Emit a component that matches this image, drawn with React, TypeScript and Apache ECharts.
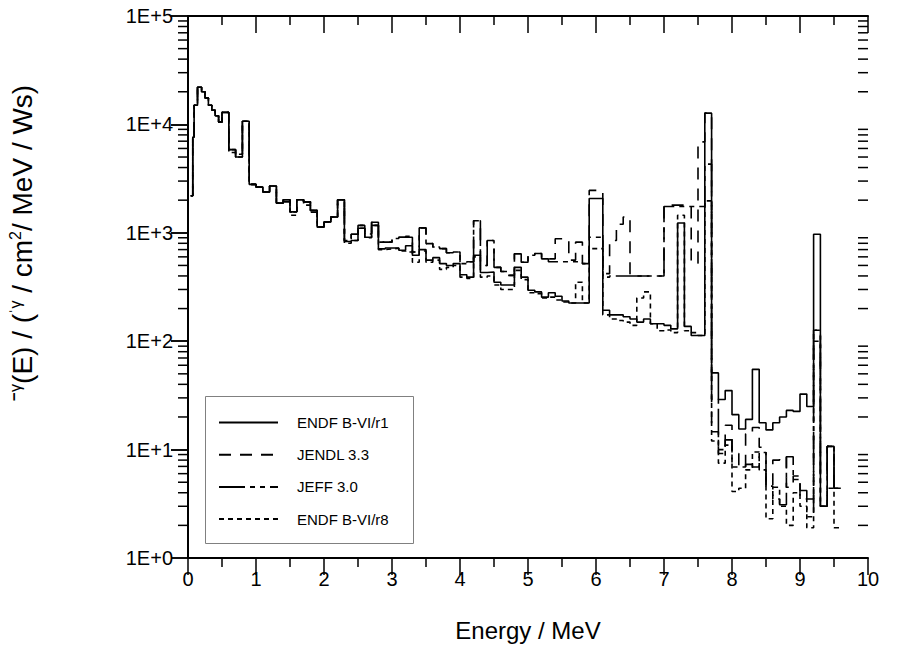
import React, { useEffect, useRef } from 'react';
import * as echarts from 'echarts';

const FONT = '"Liberation Sans", Arial, Helvetica, sans-serif';

const seriesNames = ['ENDF B-VI/r1', 'JENDL 3.3', 'JEFF 3.0', 'ENDF B-VI/r8'];

// lower bin edges (MeV); last bin ends at binEnd
const binStarts = [
  0.04, 0.07, 0.09, 0.14, 0.2, 0.25, 0.3, 0.35, 0.4, 0.45,
  0.5, 0.6, 0.7, 0.8, 0.9, 1.0, 1.1, 1.2, 1.3, 1.4, 1.5, 1.6, 1.7, 1.8, 1.9, 2.0, 2.1, 2.2,
  2.3, 2.4, 2.5, 2.6, 2.7, 2.8, 2.9, 3.0, 3.1, 3.2,
  3.3, 3.4, 3.5, 3.6, 3.7, 3.8, 3.9,
  4.0, 4.1, 4.2, 4.3, 4.4, 4.5, 4.6, 4.7, 4.8, 4.9,
  5.0, 5.1, 5.2, 5.3, 5.4, 5.5, 5.6, 5.7, 5.8,
  5.9, 6.0,
  6.1, 6.2, 6.3, 6.4, 6.5, 6.6, 6.7, 6.8, 6.9,
  7.0, 7.1, 7.2, 7.3, 7.4, 7.5, 7.6,
  7.7, 7.8, 7.9, 8.0, 8.1, 8.2, 8.3, 8.4, 8.5, 8.6, 8.7, 8.8, 8.9, 9.0, 9.1, 9.2, 9.3, 9.4, 9.5,
];
const binEnd = 9.6;

const endfR1 = [
  2200, 7600, 15000, 22000, 20000, 17500, 15000, 13500, 12000, 10500,
  12900, 5850, 5000, 10700, 2800, 2640, 2380, 2700, 1880, 2020, 1560, 2020, 1930, 1610, 1130, 1260, 1400, 2020,
  830, 850, 1100, 910, 1170, 710, 725, 725, 690, 760,
  620, 700, 560, 590, 520, 500, 520,
  410, 390, 620, 430, 435, 350, 330, 330, 480, 390,
  295, 285, 255, 280, 260, 235, 225, 225, 225,
  2070, 2070,
  193, 175, 175, 168, 160, 150, 160, 145, 145,
  140, 130, 1230, 137, 113, 113, 12700,
  51, 29, 35, 21, 15.5, 19, 55, 17.7, 15.2, 17.7, 20, 23, 22.5, 32.5, 25, 970, 3.0, 10.7, 4.4,
];

const jendl33 = [
  2200, 7600, 15000, 22000, 20000, 17500, 15000, 13500, 12000, 10500,
  12900, 5850, 5000, 10700, 2800, 2640, 2380, 2700, 1880, 1930, 1560, 2020, 1930, 1550, 1130, 1260, 1400, 2020,
  850, 970, 1170, 975, 1250, 820, 820, 885, 910, 930,
  665, 1110, 795, 740, 715, 655, 665,
  520, 540, 1290, 500, 850, 480, 440, 405, 640, 535,
  620, 645, 575, 575, 880, 880, 560, 820, 520,
  2460, 2460,
  420, 850, 1200, 1400, 400, 400, 400, 400, 400,
  1800, 1800, 1800, 1800, 525, 6900, 12700,
  14.6, 9.2, 16.8, 9.2, 6.9, 14, 16, 10.5, 4.6, 8, 8.6, 4.5, 5.7, 3.5, 3.5, 126, 5.8, 10.7, 4.4,
];

const jeff30 = [
  2200, 7600, 15000, 22000, 20000, 17500, 15000, 13500, 12000, 10500,
  12900, 5850, 5000, 10700, 2800, 2640, 2380, 2700, 1880, 2020, 1560, 2020, 1930, 1610, 1130, 1260, 1400, 2020,
  850, 970, 1170, 975, 1250, 820, 820, 885, 910, 910,
  665, 1110, 795, 740, 715, 655, 665,
  520, 540, 1290, 500, 850, 480, 440, 405, 640, 535,
  620, 645, 575, 540, 540, 540, 540, 540, 520,
  910, 910,
  390, 400, 400, 400, 400, 400, 400, 400, 400,
  1750, 1750, 1750, 1750, 1750, 1750, 4300,
  29, 10, 12.3, 6.9, 6.9, 7.3, 6.9, 9.4, 4.6, 3.5, 3.1, 8.6, 5.3, 4.2, 2.4, 126, 3.0, 10.7, 4.4,
];

const endfR8 = [
  2200, 7600, 15000, 22000, 20000, 17500, 15000, 13500, 12000, 10500,
  12900, 5500, 5300, 10700, 2800, 2640, 2380, 2700, 1880, 2020, 1450, 2020, 1800, 1610, 1130, 1260, 1400, 2020,
  800, 850, 1100, 900, 1170, 700, 710, 720, 680, 665,
  535, 680, 535, 560, 460, 480, 500,
  390, 380, 600, 390, 400, 330, 300, 300, 450, 370,
  280, 275, 250, 255, 240, 230, 225, 350, 225,
  715, 715,
  175, 160, 155, 150, 140, 250, 285, 145, 125,
  127, 120, 1450, 125, 120, 113, 1970,
  12, 7.5, 11, 4.1, 4.4, 6.5, 9.5, 6.5, 2.3, 4.5, 3.0, 2.0, 4.0, 3.0, 1.9, 100, 3.0, 4.4, 1.9,
];

const xTicks = [0, 1, 2, 3, 4, 5, 6, 7, 8, 9, 10];
const yDecades = [1, 10, 100, 1000, 10000, 100000];

const seriesValues = [endfR1, jendl33, jeff30, endfR8];
const dashTypes: any[] = ['solid', [12, 9], [26, 5, 5, 5, 5, 5], [5, 4]];

function toSteps(vals: number[]) {
  const pts = binStarts.map((e, i) => [e, vals[i]]);
  pts.push([binEnd, vals[vals.length - 1]]);
  return pts;
}

// minor tick values 2..9 of each decade of the log axis
const minorTickValues: number[] = [];
for (let k = 0; k < yDecades.length - 1; k++) {
  for (let m = 2; m <= 9; m++) minorTickValues.push(m * yDecades[k]);
}

const GRID = { left: 188, top: 16, width: 680, height: 542 };

export default function App() {
  const ref = useRef<HTMLDivElement>(null);
  useEffect(() => {
    const chart = echarts.init(ref.current!, null, { renderer: 'svg' });
    const axisLine = { show: true, lineStyle: { color: '#000', width: 2 } };
    const tickStyle = { color: '#000', width: 1.5 };
    const xMin = xTicks[0];
    const xMax = xTicks[xTicks.length - 1];
    const staticGraphics: any[] = [
      {
        id: 'legendBox', type: 'rect', shape: { x: 205.5, y: 396.5, width: 208, height: 147 },
        style: { fill: 'none', stroke: '#808080', lineWidth: 1 }, z: 1,
      },
      {
        id: 'yTitle', type: 'text', x: 22, y: 243, rotation: Math.PI / 2,
        style: {
          text: '{n|ˉ}{s|γ}{n|(E) / (}{s|ˈγ}{n| / cm}{s|2}{n|/ MeV / Ws)}',
          align: 'center', verticalAlign: 'middle', fill: '#000',
          rich: {
            n: { fontSize: 28, fontFamily: FONT, fill: '#000', lineHeight: 30 },
            s: { fontSize: 16, fontFamily: FONT, fill: '#000', lineHeight: 17, verticalAlign: 'top' },
          },
        },
      },
    ];
    const option: any = {
      animation: false,
      backgroundColor: '#fff',
      grid: { ...GRID, containLabel: false },
      xAxis: [
        {
          type: 'value', min: xMin, max: xMax, interval: 1, position: 'bottom',
          axisLine, splitLine: { show: false },
          axisTick: { show: true, length: 17, lineStyle: tickStyle },
          minorTick: { show: true, splitNumber: 2, length: 9, lineStyle: tickStyle },
          axisLabel: { fontSize: 20, color: '#000', margin: 11, fontFamily: FONT },
          name: 'Energy / MeV', nameLocation: 'middle', nameGap: 60,
          nameTextStyle: { fontSize: 24, color: '#000', fontFamily: FONT },
        },
        {
          type: 'value', min: xMin, max: xMax, interval: 1, position: 'top',
          axisLine, splitLine: { show: false },
          axisTick: { show: true, inside: true, length: 17, lineStyle: tickStyle },
          minorTick: { show: true, splitNumber: 2, length: 9, lineStyle: tickStyle },
          axisLabel: { show: false },
        },
      ],
      yAxis: [
        {
          type: 'log', logBase: 10, min: yDecades[0], max: yDecades[yDecades.length - 1], position: 'left',
          axisLine, splitLine: { show: false },
          axisTick: { show: true, length: 17, lineStyle: tickStyle },
          axisLabel: {
            fontSize: 20, color: '#000', margin: 15, fontFamily: FONT,
            formatter: (v: number) => '1E+' + Math.round(Math.log10(v)),
          },
        },
        {
          type: 'log', logBase: 10, min: yDecades[0], max: yDecades[yDecades.length - 1], position: 'right',
          axisLine, splitLine: { show: false },
          axisTick: { show: true, inside: true, length: 17, lineStyle: tickStyle },
          axisLabel: { show: false },
        },
      ],
      legend: {
        data: seriesNames, orient: 'vertical', left: 213, top: 410,
        itemWidth: 59, itemHeight: 16, itemGap: 17.2, selectedMode: false,
        itemStyle: { opacity: 0 },
        textStyle: { fontSize: 15, color: '#000', fontFamily: FONT, padding: [0, 0, 0, 14] },
      },
      graphic: staticGraphics,
      series: seriesNames.map((name, i) => ({
        name, type: 'line', step: 'end', data: toSteps(seriesValues[i]),
        symbol: 'none', showSymbol: false,
        lineStyle: { color: '#000', width: 1.6, type: dashTypes[i] },
        itemStyle: { color: '#000' }, z: 10 - i,
      })),
    };
    chart.setOption(option);

    // minor log ticks 2..9 per decade, positioned through the chart's own y scale
    const left = GRID.left;
    const right = GRID.left + GRID.width;
    const tickGraphics: any[] = [];
    minorTickValues.forEach((v, i) => {
      let y = Number(chart.convertToPixel({ yAxisIndex: 0 }, v));
      if (!isFinite(y)) {
        y = GRID.top + GRID.height * (1 - Math.log10(v) / Math.log10(yDecades[yDecades.length - 1]));
      }
      tickGraphics.push({
        id: 'mtL' + i, type: 'line', z: 50,
        shape: { x1: left - 10, y1: y, x2: left, y2: y },
        style: { stroke: '#000', lineWidth: 1.5 },
      });
      tickGraphics.push({
        id: 'mtR' + i, type: 'line', z: 50,
        shape: { x1: right - 10, y1: y, x2: right, y2: y },
        style: { stroke: '#000', lineWidth: 1.5 },
      });
    });
    chart.setOption({ graphic: [...staticGraphics, ...tickGraphics] });
    return () => chart.dispose();
  }, []);
  return (
    <div
      ref={ref}
      style={{ position: 'fixed', left: 0, top: 0, width: 898, height: 650, background: '#fff' }}
    />
  );
}
